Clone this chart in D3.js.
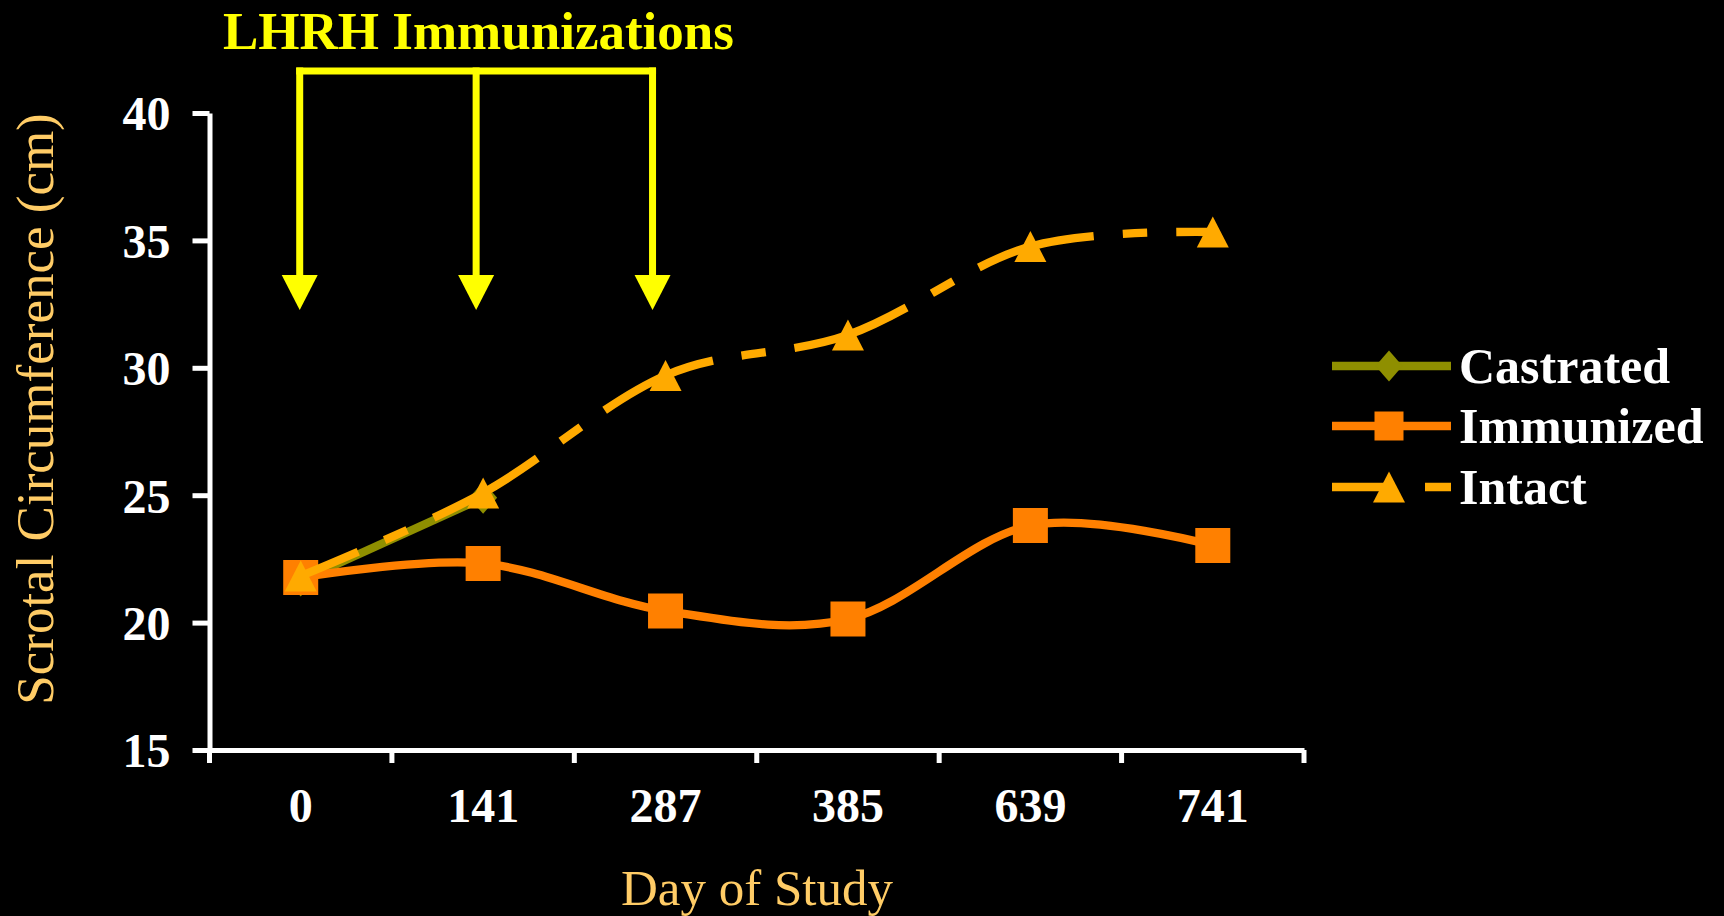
<!DOCTYPE html>
<html>
<head>
<meta charset="utf-8">
<script src="https://cdn.jsdelivr.net/npm/d3@7"></script>
<style>
  html, body { margin: 0; padding: 0; background: #000; }
  svg { display: block; }
  text { font-family: "Liberation Serif", "Times New Roman", serif; }
</style>
</head>
<body>
<svg id="chart" width="1724" height="916"></svg>
<script>
// ---- data ----
const days = ["0", "141", "287", "385", "639", "741"];
const castrated = [21.65, 24.9, null, null, null, null];
const immunized = [21.77, 22.32, 20.46, 20.14, 23.81, 23.03];
const intact = [21.83, 25.09, 29.70, 31.29, 34.76, 35.33];
const yTicks = [15, 20, 25, 30, 35, 40];
const immunizationDays = ["0", "141", "287"];
const seriesNames = ["Castrated", "Immunized", "Intact"];

const svg = d3.select("#chart");
svg.append("rect").attr("width", 1724).attr("height", 916).attr("fill", "#000");

const x = d3.scaleBand().domain(days).range([209.5, 1304]);
const y = d3.scaleLinear().domain([15, 40]).range([750, 113]);
const cx = d => x(d) + x.bandwidth() / 2;

// ---- axes ----
const yAxis = svg.append("g").attr("transform", "translate(209.5,0)")
  .call(d3.axisLeft(y).tickValues(yTicks).tickSize(17).tickSizeOuter(0).tickPadding(22));
yAxis.select(".domain").attr("stroke", "#fff").attr("stroke-width", 5);
yAxis.selectAll(".tick line").attr("stroke", "#fff").attr("stroke-width", 5);
yAxis.selectAll(".tick text").attr("fill", "#fff").attr("font-size", 48).attr("font-weight", "bold")
  .attr("font-family", "Liberation Serif, Times New Roman, serif").attr("dy", "0.35em");

const xAxis = svg.append("g").attr("transform", "translate(0,750)")
  .call(d3.axisBottom(x).tickSize(0).tickSizeOuter(0).tickPadding(0));
xAxis.select(".domain").attr("stroke", "#fff").attr("stroke-width", 5);
xAxis.selectAll(".tick text").attr("fill", "#fff").attr("font-size", 48).attr("font-weight", "bold")
  .attr("font-family", "Liberation Serif, Times New Roman, serif").attr("y", 72).attr("dy", 0);
// boundary ticks
const bounds = days.map(d => x(d)).concat([x.range()[1]]);
xAxis.selectAll(".btick").data(bounds).enter().append("line")
  .attr("x1", d => d).attr("x2", d => d).attr("y1", 0).attr("y2", 13)
  .attr("stroke", "#fff").attr("stroke-width", 5);

// axis titles
svg.append("text").attr("x", 757).attr("y", 905).attr("text-anchor", "middle")
  .attr("fill", "#FFCC66").attr("font-size", 51).text("Day of Study");
svg.append("text").attr("transform", "translate(53,409) rotate(-90)").attr("text-anchor", "middle")
  .attr("fill", "#FFCC66").attr("font-size", 53).text("Scrotal Circumference (cm)");

// ---- series ----
const line = d3.line().defined(d => d.v != null).x(d => cx(d.day)).y(d => y(d.v))
  .curve(d3.curveCardinal.tension(0));
const toPts = arr => days.map((d, i) => ({ day: d, v: arr[i] }));

const diamond = (w, h) => `M0,${-h/2}L${w/2},0L0,${h/2}L${-w/2},0Z`;
const square = s => `M${-s/2},${-s/2}h${s}v${s}h${-s}Z`;
const triangle = (w, h) => `M0,${-h/2}L${w/2},${h/2}L${-w/2},${h/2}Z`;

const series = [
  { name: "Castrated", data: castrated, color: "#8F8F00", dash: null, marker: diamond(28, 32), lmarker: diamond(27, 31) },
  { name: "Immunized", data: immunized, color: "#FF8000", dash: null, marker: square(35), lmarker: square(29) },
  { name: "Intact", data: intact, color: "#FFAA00", dash: "120 29 24.5 29", marker: triangle(32, 31), lmarker: triangle(32, 31) }
];

series.forEach(s => {
  const pts = toPts(s.data);
  const p = svg.append("path").datum(pts).attr("d", line).attr("fill", "none")
    .attr("stroke", s.color).attr("stroke-width", 8.3).attr("stroke-linejoin", "round");
  if (s.dash) p.attr("stroke-dasharray", s.dash).attr("stroke-dashoffset", 57.5);
  svg.selectAll(null).data(pts.filter(d => d.v != null)).enter().append("path")
    .attr("d", s.marker).attr("transform", d => `translate(${cx(d.day)},${y(d.v)})`)
    .attr("fill", s.color);
});

// ---- legend ----
const lg = svg.append("g");
const legendY = [366, 426, 487];
series.forEach((s, i) => {
  const g = lg.append("g").attr("transform", `translate(0,${legendY[i]})`);
  const l = g.append("line").attr("x1", 1332).attr("x2", 1451).attr("y1", 0).attr("y2", 0)
    .attr("stroke", s.color).attr("stroke-width", 8.3);
  if (s.dash) l.attr("stroke-dasharray", "60 33 26 100");
  g.append("path").attr("d", s.lmarker).attr("transform", "translate(1389,0)").attr("fill", s.color);
  g.append("text").attr("x", 1459).attr("y", 17).attr("fill", "#fff").attr("font-size", 50)
    .attr("font-weight", "bold").text(s.name);
});

// ---- LHRH immunization arrows ----
const ann = svg.append("g");
const arrowX = d3.scaleLinear().domain([0, immunizationDays.length - 1])
  .range([cx(immunizationDays[0]) - 1, cx(immunizationDays[immunizationDays.length - 1]) - 13]);
const barY = 71, headTop = 275, headTip = 310, headW = 36;
ann.append("line").attr("x1", arrowX(0) - 3.5).attr("x2", arrowX(immunizationDays.length - 1) + 3.5)
  .attr("y1", barY).attr("y2", barY).attr("stroke", "#FFFF00").attr("stroke-width", 7);
immunizationDays.forEach((d, i) => {
  const ax = arrowX(i);
  ann.append("line").attr("x1", ax).attr("x2", ax).attr("y1", barY - 3.5).attr("y2", headTop + 2)
    .attr("stroke", "#FFFF00").attr("stroke-width", 7);
  ann.append("path").attr("d", `M${ax - headW/2},${headTop}L${ax + headW/2},${headTop}L${ax},${headTip}Z`)
    .attr("fill", "#FFFF00");
});
ann.append("text").attr("x", 223).attr("y", 49).attr("fill", "#FFFF00").attr("font-size", 53)
  .attr("font-weight", "bold").text("LHRH Immunizations");
</script>
</body>
</html>
